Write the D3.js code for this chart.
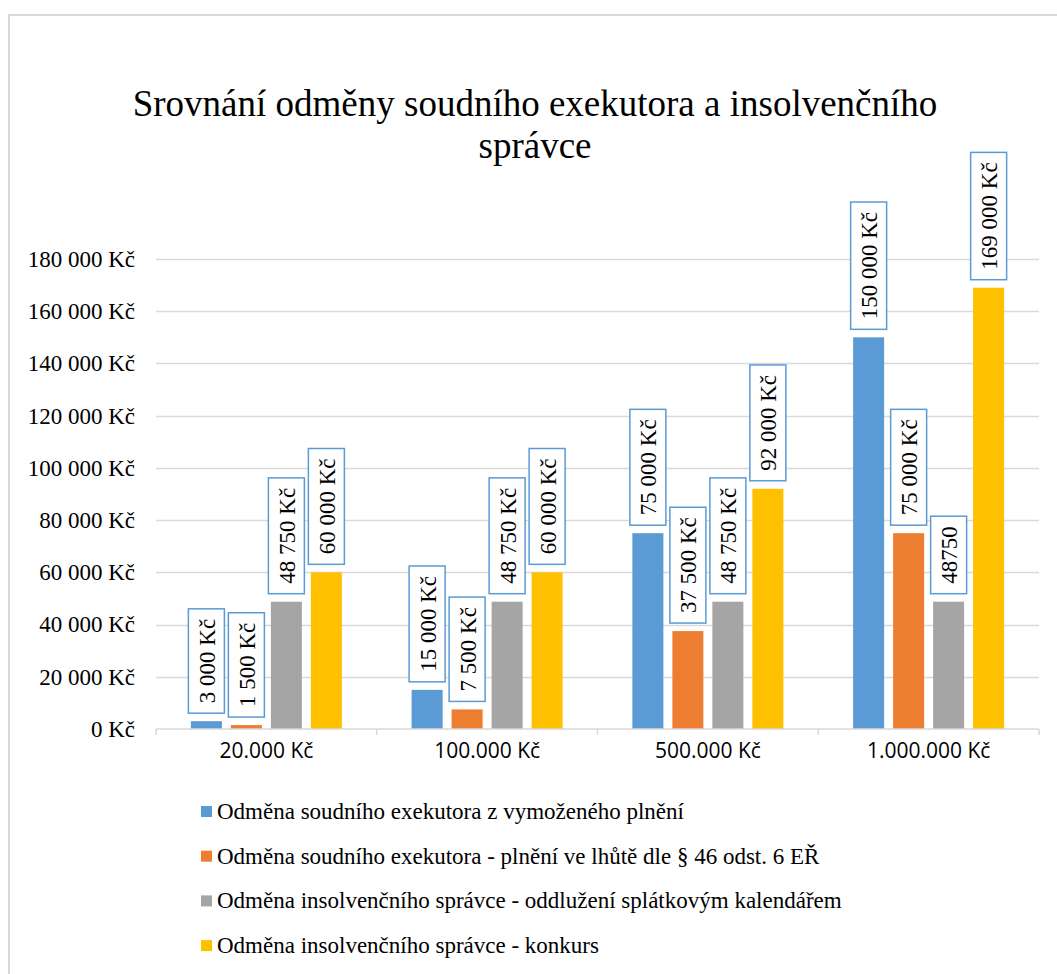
<!DOCTYPE html>
<html>
<head>
<meta charset="utf-8">
<script src="https://cdn.jsdelivr.net/npm/d3@7"></script>
</head>
<body style="margin:0">
<svg id="chart" width="1057" height="974" style="font-family: 'Liberation Serif', cursive"></svg>
<script>
const titleLines = ["Srovnání odměny soudního exekutora a insolvenčního", "správce"];
const categories = ["20.000 Kč", "100.000 Kč", "500.000 Kč", "1.000.000 Kč"];
const seriesNames = [
  "Odměna soudního exekutora z vymoženého plnění",
  "Odměna soudního exekutora - plnění ve lhůtě dle § 46 odst. 6 EŘ",
  "Odměna insolvenčního správce - oddlužení splátkovým kalendářem",
  "Odměna insolvenčního správce - konkurs"
];
const seriesColors = ["#5B9BD5", "#ED7D31", "#A5A5A5", "#FFC000"];
const exekutorVymozene = [3000, 15000, 75000, 150000];
const exekutorLhuta = [1500, 7500, 37500, 75000];
const insolvenceOddluzeni = [48750, 48750, 48750, 48750];
const insolvenceKonkurs = [60000, 60000, 92000, 169000];
const seriesValues = [exekutorVymozene, exekutorLhuta, insolvenceOddluzeni, insolvenceKonkurs];
// data label texts as shown in the chart (one label is unformatted in the original)
const labelsExekutorVymozene = ["3 000 Kč", "15 000 Kč", "75 000 Kč", "150 000 Kč"];
const labelsExekutorLhuta = ["1 500 Kč", "7 500 Kč", "37 500 Kč", "75 000 Kč"];
const labelsInsolvenceOddluzeni = ["48 750 Kč", "48 750 Kč", "48 750 Kč", "48750"];
const labelsInsolvenceKonkurs = ["60 000 Kč", "60 000 Kč", "92 000 Kč", "169 000 Kč"];
const seriesLabels = [labelsExekutorVymozene, labelsExekutorLhuta, labelsInsolvenceOddluzeni, labelsInsolvenceKonkurs];
const yTicks = [0, 20000, 40000, 60000, 80000, 100000, 120000, 140000, 160000, 180000];

const SERIF = "Liberation Serif";
const SANS = "Open Sans";
const svg = d3.select("#chart");
const gridColor = "#D9D9D9";

// outer chart border
svg.append("rect")
  .attr("x", 9).attr("y", 15).attr("width", 1100).attr("height", 1000)
  .attr("fill", "none").attr("stroke", gridColor).attr("stroke-width", 2);

// title
const title = svg.append("text")
  .attr("text-anchor", "middle")
  .attr("font-family", SERIF).attr("font-size", 37).attr("fill", "#000");
title.selectAll("tspan").data(titleLines).join("tspan")
  .attr("x", 535).attr("y", (d, i) => 116 + i * 42)
  .text(d => d);

const plot = { left: 156, right: 1039, top: 259, bottom: 729 };

const x0 = d3.scaleBand().domain(categories).range([plot.left, plot.right]).padding(0);
const x1 = d3.scaleBand().domain(d3.range(seriesNames.length))
  .range([0, x0.bandwidth()]).paddingInner(0.225).paddingOuter(0.872);
const y = d3.scaleLinear().domain([0, 180000]).range([plot.bottom, plot.top]);

const fmt = v => d3.format(",")(v).replace(/,/g, " ") + " Kč";

// gridlines
svg.append("g").selectAll("line").data(yTicks.filter(t => t > 0)).join("line")
  .attr("x1", plot.left).attr("x2", plot.right)
  .attr("y1", d => Math.round(y(d)) + 0.5).attr("y2", d => Math.round(y(d)) + 0.5)
  .attr("stroke", gridColor).attr("stroke-width", 1.5);

// y axis labels
const yAxis = d3.axisLeft(y).tickValues(yTicks).tickFormat(fmt).tickSize(0).tickPadding(21);
const gy = svg.append("g").attr("transform", `translate(${plot.left},0)`).call(yAxis);
gy.attr("font-family", SERIF).attr("font-size", 23);
gy.select(".domain").remove();
gy.selectAll("text").attr("font-family", SERIF).attr("font-size", 23).attr("fill", "#000");

// bars
const groups = svg.append("g").selectAll("g").data(categories).join("g")
  .attr("transform", d => `translate(${x0(d)},0)`);

groups.selectAll("rect")
  .data((c, ci) => seriesValues.map((vals, si) => ({ si, v: vals[ci], label: seriesLabels[si][ci] })))
  .join("rect")
  .attr("x", d => x1(d.si)).attr("width", x1.bandwidth())
  .attr("y", d => y(d.v)).attr("height", d => y(0) - y(d.v))
  .attr("fill", d => seriesColors[d.si]);

// x axis
const xAxis = d3.axisBottom(x0).tickSize(0).tickPadding(14);
const gx = svg.append("g").attr("transform", `translate(0,${plot.bottom})`).call(xAxis);
gx.attr("font-family", SANS).attr("font-size", 21);
gx.select(".domain").attr("stroke", gridColor).attr("stroke-width", 1.5).attr("d", `M${plot.left},0H${plot.right}`);
gx.selectAll("text").attr("font-family", SANS).attr("font-size", 21).attr("fill", "#000")
  .attr("dy", "0.71em");
// category boundary ticks
const boundaries = categories.map(c => x0(c)).concat([x0(categories[categories.length - 1]) + x0.bandwidth()]);
gx.append("g").selectAll("line").data(boundaries).join("line")
  .attr("x1", d => d).attr("x2", d => d).attr("y1", 0).attr("y2", 6)
  .attr("stroke", gridColor).attr("stroke-width", 1.5);

// data labels
const labelGroups = groups.selectAll("g.lbl")
  .data((c, ci) => seriesValues.map((vals, si) => ({ si, v: vals[ci], label: seriesLabels[si][ci] })))
  .join("g").attr("class", "lbl");

labelGroups.each(function(d) {
  const g = d3.select(this);
  const cx = x1(d.si) + x1.bandwidth() / 2;
  const t = g.append("text")
    .attr("font-family", SERIF).attr("font-size", 23).attr("fill", "#000")
    .attr("text-anchor", "middle").attr("dominant-baseline", "central")
    .text(d.label);
  const len = t.node().getComputedTextLength();
  const boxH = len + 20, boxW = 36;
  const bottom = y(d.v) - 8;
  const cy = bottom - boxH / 2;
  g.insert("rect", "text")
    .attr("x", cx - boxW / 2).attr("y", bottom - boxH)
    .attr("width", boxW).attr("height", boxH)
    .attr("fill", "#fff").attr("stroke", "#5B9BD5").attr("stroke-width", 1.5);
  t.attr("transform", `translate(${cx + 1},${cy}) rotate(-90)`);
});

// legend
const legend = svg.append("g").selectAll("g").data(seriesNames).join("g")
  .attr("transform", (d, i) => `translate(201,${806 + i * 44.7})`);
legend.append("rect").attr("width", 11).attr("height", 11)
  .attr("fill", (d, i) => seriesColors[i]);
legend.append("text").attr("x", 16).attr("y", 13)
  .attr("font-family", SERIF).attr("font-size", 23).attr("fill", "#000")
  .text(d => d);
</script>
</body>
</html>
